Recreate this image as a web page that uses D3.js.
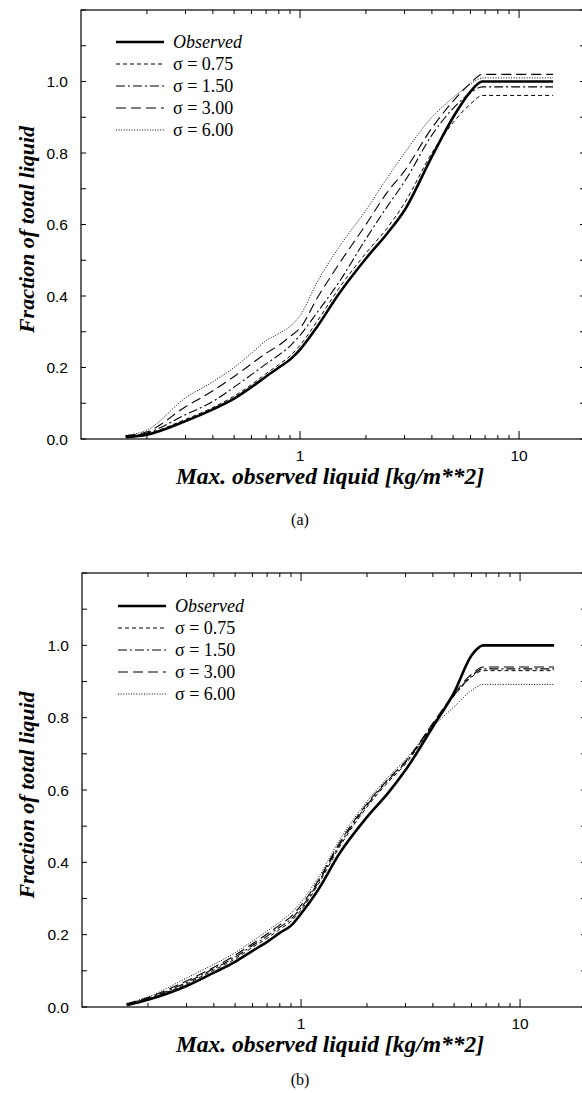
<!DOCTYPE html>
<html>
<head>
<meta charset="utf-8">
<script src="https://cdn.jsdelivr.net/npm/d3@7"></script>
<style>
  html, body { margin: 0; padding: 0; background: #fff; }
  svg { display: block; }
</style>
</head>
<body>
<svg id="chart" width="582" height="1093"></svg>
<script>
// ---------- DATA ----------
const xValues = [0.16, 0.2, 0.3, 0.4, 0.5, 0.6, 0.7, 0.8, 0.9, 1.0, 1.2, 1.5, 2.0, 2.5, 3.0, 4.0, 5.0, 6.0, 6.8, 14.3];

const seriesNames = ["Observed", "σ = 0.75", "σ = 1.50", "σ = 3.00", "σ = 6.00"];

// Panel (a)
const aObserved = [0.005, 0.012, 0.050, 0.083, 0.113, 0.145, 0.175, 0.200, 0.222, 0.250, 0.315, 0.405, 0.505, 0.575, 0.640, 0.790, 0.900, 0.972, 1.000, 1.000];
const aSigma075 = [0.007, 0.015, 0.055, 0.088, 0.120, 0.152, 0.183, 0.208, 0.232, 0.262, 0.330, 0.420, 0.520, 0.590, 0.660, 0.800, 0.885, 0.937, 0.961, 0.961];
const aSigma150 = [0.008, 0.017, 0.068, 0.105, 0.145, 0.180, 0.210, 0.235, 0.260, 0.290, 0.355, 0.437, 0.560, 0.650, 0.720, 0.850, 0.925, 0.968, 0.985, 0.985];
const aSigma300 = [0.009, 0.020, 0.090, 0.135, 0.175, 0.210, 0.240, 0.262, 0.287, 0.310, 0.395, 0.488, 0.600, 0.690, 0.750, 0.870, 0.945, 0.995, 1.020, 1.020];
const aSigma600 = [0.010, 0.025, 0.115, 0.160, 0.200, 0.240, 0.275, 0.295, 0.315, 0.345, 0.440, 0.535, 0.640, 0.730, 0.800, 0.900, 0.955, 0.993, 1.010, 1.010];

// Panel (b)
const bObserved = [0.005, 0.020, 0.058, 0.095, 0.125, 0.155, 0.180, 0.205, 0.225, 0.258, 0.325, 0.425, 0.525, 0.592, 0.655, 0.775, 0.870, 0.972, 1.000, 1.000];
const bSigma075 = [0.007, 0.022, 0.064, 0.102, 0.133, 0.165, 0.190, 0.215, 0.237, 0.268, 0.340, 0.443, 0.553, 0.622, 0.672, 0.780, 0.860, 0.912, 0.930, 0.930];
const bSigma150 = [0.008, 0.024, 0.068, 0.106, 0.138, 0.170, 0.196, 0.221, 0.243, 0.274, 0.345, 0.449, 0.558, 0.627, 0.676, 0.782, 0.862, 0.915, 0.935, 0.935];
const bSigma300 = [0.009, 0.026, 0.072, 0.110, 0.143, 0.175, 0.202, 0.227, 0.250, 0.281, 0.350, 0.454, 0.562, 0.630, 0.679, 0.785, 0.866, 0.920, 0.940, 0.940];
const bSigma600 = [0.010, 0.028, 0.080, 0.118, 0.150, 0.182, 0.210, 0.235, 0.260, 0.290, 0.358, 0.462, 0.568, 0.636, 0.684, 0.775, 0.830, 0.875, 0.892, 0.892];

const yTickValues = [0.0, 0.1, 0.2, 0.3, 0.4, 0.5, 0.6, 0.7, 0.8, 0.9, 1.0, 1.1, 1.2];
const yLabelValues = [0.0, 0.2, 0.4, 0.6, 0.8, 1.0];
const xMinorTicks = [0.2, 0.3, 0.4, 0.5, 0.6, 0.7, 0.8, 0.9, 2, 3, 4, 5, 6, 7, 8, 9];
const xMajorTicks = [1, 10];
const xLabels = ["1", "10"];

const xTitle = "Max. observed liquid [kg/m**2]";
const yTitle = "Fraction of total liquid";

// ---------- STYLES ----------
const lineStyles = [
  { width: 2.6, dash: null },
  { width: 1.0, dash: "4,3" },
  { width: 1.1, dash: "9,3,2,3" },
  { width: 1.1, dash: "10,5" },
  { width: 1.0, dash: "1,1.6" }
];

const svg = d3.select("#chart");

function drawPanel(cfg) {
  const g = svg.append("g");
  const x = d3.scaleLog().domain([0.1, 20]).range([cfg.left, cfg.left + 504]);
  const y = d3.scaleLinear().domain([0, 1.2]).range([cfg.bottom, cfg.top]);
  const right = x(20);

  // frame
  g.append("rect")
    .attr("x", cfg.left).attr("y", cfg.top)
    .attr("width", right - cfg.left).attr("height", cfg.bottom - cfg.top)
    .attr("fill", "none").attr("stroke", "#000").attr("stroke-width", 1.2);

  // y ticks (left and right, pointing inward)
  g.selectAll(".ytl").data(yTickValues).enter().append("line")
    .attr("x1", cfg.left).attr("x2", cfg.left + 5)
    .attr("y1", d => y(d)).attr("y2", d => y(d))
    .attr("stroke", "#000").attr("stroke-width", 1);
  g.selectAll(".ytr").data(yTickValues).enter().append("line")
    .attr("x1", right).attr("x2", right - 5)
    .attr("y1", d => y(d)).attr("y2", d => y(d))
    .attr("stroke", "#000").attr("stroke-width", 1);

  // y labels
  g.selectAll(".ylab").data(yLabelValues).enter().append("text")
    .attr("x", cfg.left - 13).attr("y", d => y(d))
    .attr("dy", "0.36em")
    .attr("text-anchor", "end")
    .attr("font-family", "Liberation Sans, Arial, sans-serif")
    .attr("font-size", 15.5)
    .text(d => d3.format(".1f")(d));

  // x ticks bottom and top
  [[cfg.bottom, -1], [cfg.top, 1]].forEach(([yy, dir]) => {
    g.selectAll(null).data(xMinorTicks).enter().append("line")
      .attr("x1", d => x(d)).attr("x2", d => x(d))
      .attr("y1", yy).attr("y2", yy + dir * 4)
      .attr("stroke", "#000").attr("stroke-width", 1);
    g.selectAll(null).data(xMajorTicks).enter().append("line")
      .attr("x1", d => x(d)).attr("x2", d => x(d))
      .attr("y1", yy).attr("y2", yy + dir * 8)
      .attr("stroke", "#000").attr("stroke-width", 1);
  });

  // x labels
  g.selectAll(".xlab").data(xMajorTicks).enter().append("text")
    .attr("x", d => x(d)).attr("y", cfg.bottom + 22)
    .attr("text-anchor", "middle")
    .attr("font-family", "Liberation Sans, Arial, sans-serif")
    .attr("font-size", 15.5)
    .text((d, i) => xLabels[i]);

  // axis titles
  g.append("text")
    .attr("x", 330).attr("y", cfg.bottom + 45)
    .attr("text-anchor", "middle")
    .attr("font-family", "Liberation Serif, Times New Roman, serif")
    .attr("font-weight", "bold").attr("font-style", "italic")
    .attr("font-size", 23.5)
    .text(xTitle);
  g.append("text")
    .attr("transform", `translate(34,${(cfg.top + cfg.bottom) / 2 + 5}) rotate(-90)`)
    .attr("text-anchor", "middle")
    .attr("font-family", "Liberation Serif, Times New Roman, serif")
    .attr("font-weight", "bold").attr("font-style", "italic")
    .attr("font-size", 22)
    .text(yTitle);

  // panel caption
  g.append("text")
    .attr("x", 300).attr("y", cfg.captionY)
    .attr("text-anchor", "middle")
    .attr("font-family", "Liberation Serif, Times New Roman, serif")
    .attr("font-size", 16)
    .text(cfg.caption);

  // curves
  const line = d3.line()
    .x((d, i) => x(xValues[i]))
    .y(d => y(d))
    .curve(d3.curveMonotoneX);

  const order = [4, 3, 2, 1, 0];
  order.forEach(k => {
    const st = lineStyles[k];
    g.append("path")
      .attr("d", line(cfg.series[k]))
      .attr("fill", "none")
      .attr("stroke", "#000")
      .attr("stroke-width", st.width)
      .attr("stroke-dasharray", st.dash)
      .attr("stroke-linejoin", "round");
  });

  // legend
  const lg = g.append("g");
  seriesNames.forEach((name, k) => {
    const ly = cfg.legendTop + k * 22;
    const st = lineStyles[k];
    lg.append("line")
      .attr("x1", cfg.legendX).attr("x2", cfg.legendX + 48)
      .attr("y1", ly).attr("y2", ly)
      .attr("stroke", "#000").attr("stroke-width", st.width)
      .attr("stroke-dasharray", st.dash);
    lg.append("text")
      .attr("x", cfg.legendX + 57).attr("y", ly)
      .attr("dy", "0.33em")
      .attr("font-family", "Liberation Serif, Times New Roman, serif")
      .attr("font-size", 18)
      .attr("font-style", k === 0 ? "italic" : "normal")
      .text(name);
  });
}

drawPanel({
  left: 81, top: 10, bottom: 439, caption: "(a)", captionY: 525,
  legendX: 116, legendTop: 42,
  series: [aObserved, aSigma075, aSigma150, aSigma300, aSigma600]
});
drawPanel({
  left: 82, top: 573, bottom: 1007, caption: "(b)", captionY: 1085,
  legendX: 118, legendTop: 606,
  series: [bObserved, bSigma075, bSigma150, bSigma300, bSigma600]
});
</script>
</body>
</html>
